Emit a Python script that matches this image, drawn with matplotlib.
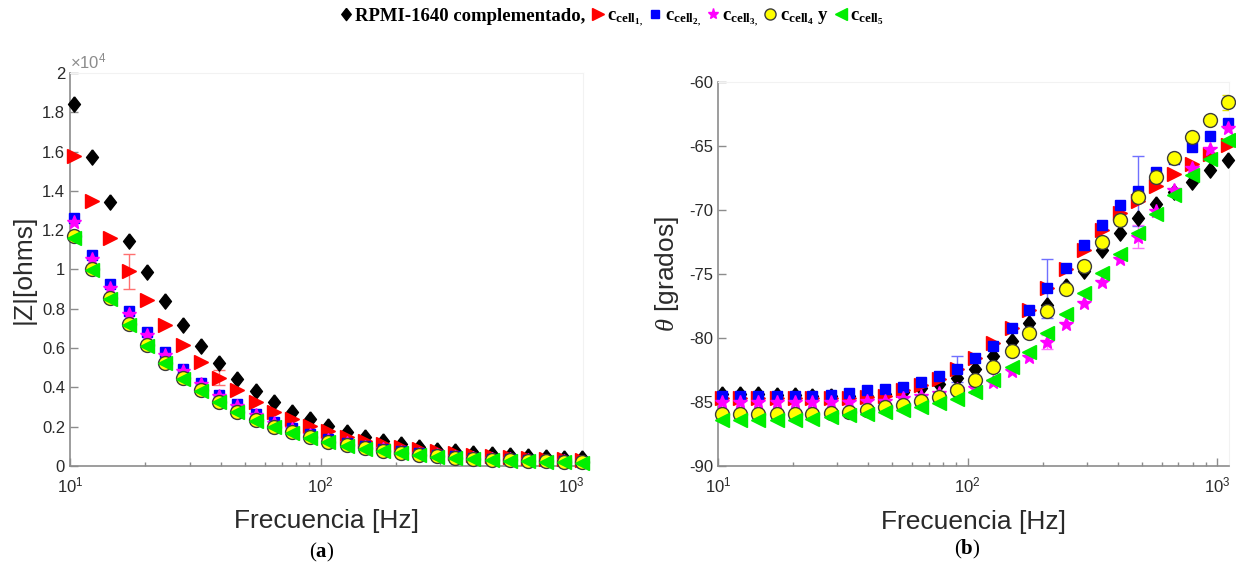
import matplotlib
matplotlib.use('Agg')

import numpy as np
import matplotlib.pyplot as plt
from matplotlib.lines import Line2D
from matplotlib.ticker import FuncFormatter, NullFormatter

plt.rcParams['font.family'] = ['Liberation Sans', 'DejaVu Sans']
plt.rcParams['mathtext.fontset'] = 'custom'
plt.rcParams['mathtext.rm'] = 'Liberation Serif'
plt.rcParams['mathtext.it'] = 'Liberation Serif:italic'
plt.rcParams['mathtext.bf'] = 'Liberation Serif:bold'
plt.rcParams['axes.unicode_minus'] = False

# frecuencias [Hz]
freq = [10.4, 12.3, 14.5, 17.2, 20.3, 23.9, 28.3, 33.4, 39.5, 46.6, 55.1, 65.1, 76.9, 90.8,
        107, 127, 150, 177, 209, 247, 292, 345, 407, 481, 568, 671, 793, 937, 1107]

# |Z| [ohms]
z_rpmi = [18400, 15700, 13450, 11450, 9850, 8420, 7200, 6100, 5250, 4450, 3800, 3250, 2750, 2380,
          2040, 1720, 1460, 1260, 1100, 950, 830, 740, 660, 600, 550, 500, 465, 430, 400]
z_c1 = [15800, 13500, 11600, 9900, 8450, 7200, 6180, 5300, 4480, 3850, 3250, 2770, 2390, 2050,
        1760, 1500, 1280, 1110, 960, 840, 740, 650, 580, 520, 470, 420, 380, 340, 310]
z_c2 = [12600, 10750, 9250, 7900, 6800, 5780, 4950, 4240, 3620, 3130, 2650, 2260, 1910, 1610,
        1370, 1170, 1000, 860, 740, 640, 560, 490, 430, 380, 340, 300, 270, 245, 220]
z_c3 = [12400, 10550, 9050, 7750, 6650, 5650, 4850, 4150, 3550, 3060, 2600, 2210, 1870, 1580,
        1340, 1150, 980, 845, 730, 630, 550, 480, 425, 375, 335, 295, 265, 240, 215]
z_c4 = [11700, 10000, 8550, 7250, 6180, 5260, 4480, 3850, 3280, 2770, 2340, 2000, 1710, 1450,
        1230, 1050, 900, 770, 660, 570, 490, 430, 380, 330, 290, 260, 230, 205, 185]
z_c5 = [11600, 9950, 8480, 7200, 6120, 5220, 4440, 3800, 3240, 2740, 2310, 1970, 1680, 1430,
        1210, 1030, 880, 750, 640, 550, 470, 410, 360, 315, 275, 245, 215, 190, 170]

# fase [grados]
th_rpmi = [-84.4, -84.4, -84.4, -84.45, -84.45, -84.5, -84.5, -84.5, -84.5, -84.4, -84.2, -83.9, -83.6, -83.1,
           -82.4, -81.4, -80.2, -78.8, -77.4, -75.9, -74.8, -73.1, -71.8, -70.6, -69.5, -68.6, -67.8, -66.9, -66.1]
th_c1 = [-84.7, -84.7, -84.7, -84.7, -84.7, -84.7, -84.7, -84.7, -84.6, -84.55, -84.1, -83.7, -83.2, -82.4,
         -81.6, -80.4, -79.2, -77.8, -76.1, -74.6, -73.1, -71.6, -70.2, -69.3, -68.1, -67.2, -66.4, -65.6, -64.9]
th_c2 = [-84.5, -84.5, -84.5, -84.5, -84.5, -84.5, -84.45, -84.3, -84.1, -84.0, -83.8, -83.4, -83.0, -82.4,
         -81.6, -80.6, -79.2, -77.8, -76.1, -74.5, -72.7, -71.2, -69.6, -68.5, -67.0, -66.0, -65.1, -64.2, -63.2]
th_c3 = [-85.0, -85.0, -85.0, -85.0, -85.0, -85.0, -85.0, -85.0, -84.9, -84.9, -84.7, -84.5, -84.3, -84.0,
         -83.9, -83.4, -82.6, -81.5, -80.3, -78.9, -77.3, -75.6, -73.8, -72.1, -70.1, -68.4, -66.7, -65.2, -63.6]
th_c4 = [-85.95, -85.95, -85.95, -85.95, -85.95, -85.95, -85.85, -85.75, -85.6, -85.4, -85.2, -84.9, -84.6, -84.1,
         -83.3, -82.3, -81.0, -79.6, -77.9, -76.2, -74.4, -72.5, -70.8, -69.0, -67.4, -65.9, -64.3, -63.0, -61.6]
th_c5 = [-86.4, -86.4, -86.4, -86.4, -86.4, -86.3, -86.15, -86.0, -85.95, -85.8, -85.6, -85.4, -85.1, -84.8,
         -84.2, -83.3, -82.3, -81.1, -79.6, -78.1, -76.5, -74.9, -73.4, -71.8, -70.3, -68.8, -67.3, -66.0, -64.5]

# barras de error (indice del punto, valor)
z_c1_err_idx = [3, 8]
z_c1_err = [880, 380]
th_c2_err_idx = [13, 18, 23]
th_c2_err = [1.0, 2.3, 2.75]
th_c3_err_idx = [18, 23]
th_c3_err = [0.55, 0.9]
th_c4_err_idx = [23, 28]
th_c4_err = [0.3, 0.6]

diamond = [(0, 1), (0.78, 0), (0, -1), (-0.78, 0), (0, 1)]
styles = [
    dict(marker=diamond, color='black', mec='black', ms=11),
    dict(marker='>', color='#ff0000', mec='#ff0000', ms=10),
    dict(marker='s', color='#0000ff', mec='#0000ff', ms=7.5),
    dict(marker='*', color='#ff00ff', mec='#ff00ff', ms=10),
    dict(marker='o', color='#ffff00', mec='#3c3c3c', ms=10, mew=1.0),
    dict(marker='<', color='#00ee00', mec='#00ee00', ms=10),
]
grey = '#8c8c8c'
txt = '#2a2a2a'

fig = plt.figure(figsize=(12.36, 5.68), dpi=100)
ax1 = fig.add_axes([0.0566, 0.1796, 0.4151, 0.6919])
ax2 = fig.add_axes([0.5809, 0.1796, 0.4134, 0.6760])


def base(ax):
    ax.set_xscale('log')
    ax.set_xlim(10, 1115)
    ax.xaxis.set_minor_formatter(NullFormatter())
    ax.tick_params(which='both', direction='in', colors=grey, labelcolor=txt, labelsize=12, width=1)
    ax.tick_params(which='major', length=6)
    ax.tick_params(which='minor', length=3)
    ax.tick_params(axis='x', pad=7)
    for s in ['left', 'bottom']:
        ax.spines[s].set_color(grey)
        ax.spines[s].set_linewidth(1.2)
    for s in ['top', 'right']:
        ax.spines[s].set_color('#f2f2f2')
    ax.set_xlabel('Frecuencia [Hz]', fontsize=19, color=txt, va='center')


# (a) modulo de impedancia
base(ax1)
ax1.errorbar(np.array(freq)[z_c1_err_idx], np.array(z_c1)[z_c1_err_idx], yerr=z_c1_err,
             fmt='none', ecolor='#ff7070', elinewidth=1, capsize=4, zorder=2)
for y, st in zip([z_rpmi, z_c1, z_c2, z_c3, z_c4, z_c5], styles):
    ax1.plot(freq, y, ls='none', clip_on=False, zorder=3, **st)
ax1.set_ylim(0, 20000)
ax1.set_yticks(np.arange(0, 20001, 2000))
ax1.yaxis.set_major_formatter(FuncFormatter(lambda v, p: '%g' % (v / 1e4)))
ax1.text(0.0, 1.003, r'$\mathregular{\times10^{4}}$', transform=ax1.transAxes,
         fontsize=12, color=grey, ha='left', va='bottom')
ax1.set_ylabel('|Z|[ohms]', fontsize=19, color=txt)
ax1.yaxis.set_label_coords(-0.066, 0.5)
ax1.xaxis.set_label_coords(0.5, -0.14)

# (b) fase
base(ax2)
ax2.errorbar(np.array(freq)[th_c2_err_idx], np.array(th_c2)[th_c2_err_idx], yerr=th_c2_err,
             fmt='none', ecolor='#7070ff', elinewidth=1, capsize=4, zorder=2)
ax2.errorbar(np.array(freq)[th_c3_err_idx], np.array(th_c3)[th_c3_err_idx], yerr=th_c3_err,
             fmt='none', ecolor='#ff70ff', elinewidth=1, capsize=4, zorder=2)
ax2.errorbar(np.array(freq)[th_c4_err_idx], np.array(th_c4)[th_c4_err_idx], yerr=th_c4_err,
             fmt='none', ecolor='#e0e000', elinewidth=1, capsize=4, zorder=2)
for y, st in zip([th_rpmi, th_c1, th_c2, th_c3, th_c4, th_c5], styles):
    ax2.plot(freq, y, ls='none', clip_on=False, zorder=3, **st)
ax2.set_ylim(-90, -60)
ax2.set_yticks(np.arange(-90, -59, 5))
ax2.set_ylabel(r'$\theta$ [grados]', fontsize=19, color=txt)
ax2.yaxis.set_label_coords(-0.072, 0.5)
ax2.xaxis.set_label_coords(0.5, -0.146)

fig.text(0.2605, 0.028, r'($\mathbf{a}$)', fontsize=15, family='Liberation Serif',
         ha='center', va='center', color='black')
fig.text(0.7824, 0.033, r'($\mathbf{b}$)', fontsize=15, family='Liberation Serif',
         ha='center', va='center', color='black')

# leyenda superior
labels = ['RPMI-1640 complementado,',
          r'$\mathbf{c_{cell_{1,}}}$',
          r'$\mathbf{c_{cell_{2,}}}$',
          r'$\mathbf{c_{cell_{3,}}}$',
          r'$\mathbf{c_{cell_{4}}}$ y',
          r'$\mathbf{c_{cell_{5}}}$']
handles = []
for st in styles:
    h = dict(st)
    h['ms'] = st['ms'] * 0.8
    handles.append(Line2D([], [], ls='none', **h))
fig.legend(handles, labels, loc='center', bbox_to_anchor=(0.494, 0.968), ncol=6, frameon=False,
           prop={'family': 'Liberation Serif', 'weight': 'bold', 'size': 13.5},
           handletextpad=0.05, columnspacing=0.2, handlelength=0.9, borderpad=0)

fig.savefig('out.png', dpi=100)
